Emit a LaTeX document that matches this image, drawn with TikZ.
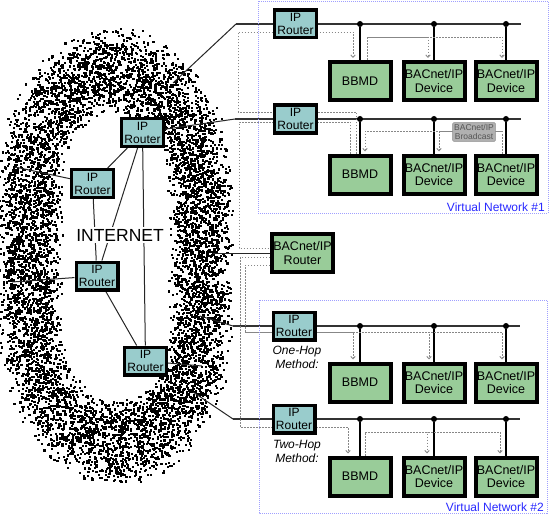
\documentclass[tikz,border=0pt]{standalone}
\usepackage{fontspec}
\setmainfont{Liberation Sans}
\usetikzlibrary{arrows.meta}
\definecolor{routerteal}{RGB}{153,204,204}
\definecolor{boxgreen}{RGB}{153,204,153}
\definecolor{flowgray}{RGB}{135,135,135}
\definecolor{vnline}{RGB}{160,160,255}
\definecolor{vntext}{RGB}{40,40,255}
\definecolor{bcastfill}{RGB}{176,176,176}
\definecolor{bcasttext}{RGB}{85,85,85}
\pgfdeclarelayer{cloud}
\pgfdeclarelayer{wires}
\pgfsetlayers{cloud,wires,main}
\tikzset{
  iprouter/.style={shape=rectangle, draw=black, line width=3.2pt, fill=routerteal, minimum width=41.8pt, minimum height=27.8pt, inner sep=0pt, align=center, font=\fontsize{12}{13}\selectfont},
  greenbox/.style={shape=rectangle, draw=black, line width=4pt, fill=boxgreen, minimum width=61pt, minimum height=38pt, inner sep=0pt, align=center, font=\fontsize{12.5}{13.5}\selectfont},
  tap/.style={shape=circle, fill=black, minimum size=6pt, inner sep=0pt},
  lan/.style={line width=1.8pt, draw=black!80},
  drop/.style={line width=1.3pt, draw=black},
  wan/.style={line width=1pt, draw=black!85},
  flow/.style={draw=flowgray, line width=0.9pt, dash pattern=on 1.5pt off 1.5pt},
  flowto/.style={flow, shorten >=2pt, -{Straight Barb[length=2.5pt,width=4.5pt]}},
  vnet/.style={draw=vnline, line width=0.9pt, dash pattern=on 1pt off 1pt},
  vnlabel/.style={anchor=south east, inner sep=1pt, text=vntext, font=\fontsize{12}{13}\selectfont},
  method/.style={align=center, font=\itshape\fontsize{12}{14}\selectfont},
  bcast/.style={shape=rectangle, fill=bcastfill, draw=black!45, line width=0.4pt, rounded corners=1pt, inner sep=1.5pt, align=center, text=bcasttext, font=\fontsize{8.5}{9.5}\selectfont}
}
\begin{document}
\begin{tikzpicture}[x=1pt, y=-1pt]
\useasboundingbox (0,0) rectangle (551,516);

% the internet cloud
\begin{pgfonlayer}{cloud}
\pgfmathsetseed{1234}
\foreach \k in {1,...,8000}{
  \pgfmathsetmacro{\off}{24*(2*rnd-1)+9*(2*rnd-1)}
  \pgfmathsetmacro{\rr}{85.5+\off}
  \pgfmathsetmacro{\sel}{rnd}
  \pgfmathsetmacro{\sgn}{rnd<0.5 ? -1 : 1}
  \pgfmathsetmacro{\ang}{180*rnd}
  \pgfmathsetmacro{\px}{\sel<0.31 ? 114.5+\sgn*\rr : 114.5+\rr*cos(\ang)}
  \pgfmathsetmacro{\py}{\sel<0.31 ? 184.5+142*rnd : 255.5+\sgn*(71+\rr/0.74*sin(\ang))}
  \fill[black] (\px,\py) rectangle ++(2.2,2.2);
}
\end{pgfonlayer}

% internet routers
\node[iprouter] (RA) at (142.5,132.5) {IP\\Router};
\node[iprouter] (RB) at (92.5,183.5) {IP\\Router};
\node[iprouter] (RC) at (97,276) {IP\\Router};
\node[iprouter] (RD) at (145.5,361) {IP\\Router};
\node[fill=white, inner sep=2pt, font=\fontsize{17.5}{18}\selectfont] (NET) at (120,235) {INTERNET};
\coordinate (LA) at (15,167);
\coordinate (LB) at (12,282);

% virtual network 1
\draw[vnet] (258,1) rectangle (548,213);
\node[vnlabel] (VN1) at (546,213) {Virtual Network \#1};
\node[iprouter] (R1) at (295.5,24) {IP\\Router};
\node[iprouter] (R2) at (295.5,119) {IP\\Router};
\node[greenbox] (B1) at (360,81) {BBMD};
\node[greenbox] (D1a) at (434,81) {BACnet/IP\\Device};
\node[greenbox] (D1b) at (506,81) {BACnet/IP\\Device};
\node[greenbox] (B2) at (360,174.5) {BBMD};
\node[greenbox] (D2a) at (434,174.5) {BACnet/IP\\Device};
\node[greenbox] (D2b) at (506,174.5) {BACnet/IP\\Device};
\node[tap] (T1a) at (360,24) {};
\node[tap] (T1b) at (434,24) {};
\node[tap] (T1c) at (506,24) {};
\node[tap] (T2a) at (360,119) {};
\node[tap] (T2b) at (434,119) {};
\node[tap] (T2c) at (506,119) {};

% bacnet router
\node[greenbox] (BR) at (302.5,253) {BACnet/IP\\Router};

% virtual network 2
\draw[vnet] (259,300) rectangle (547,513);
\node[vnlabel] (VN2) at (545,513) {Virtual Network \#2};
\node[iprouter] (R3) at (294,326) {IP\\Router};
\node[iprouter] (R4) at (294,419) {IP\\Router};
\node[method] (M1) at (297,357) {One-Hop\\Method:};
\node[method] (M2) at (297,451) {Two-Hop\\Method:};
\node[greenbox] (B3) at (360,382.5) {BBMD};
\node[greenbox] (D3a) at (434,382.5) {BACnet/IP\\Device};
\node[greenbox] (D3b) at (506,382.5) {BACnet/IP\\Device};
\node[greenbox] (B4) at (360,476.5) {BBMD};
\node[greenbox] (D4a) at (434,476.5) {BACnet/IP\\Device};
\node[greenbox] (D4b) at (506,476.5) {BACnet/IP\\Device};
\node[tap] (T3a) at (360,326) {};
\node[tap] (T3b) at (434,326) {};
\node[tap] (T3c) at (506,326) {};
\node[tap] (T4a) at (360,419) {};
\node[tap] (T4b) at (434,419) {};
\node[tap] (T4c) at (506,419) {};

% lan ends
\coordinate (W1) at (236,24);   \coordinate (E1) at (521,24);
\coordinate (W2) at (235,119);  \coordinate (E2) at (521,119);
\coordinate (W3) at (233,326);  \coordinate (E3) at (520,326);
\coordinate (W4) at (233,419);  \coordinate (E4) at (520,419);
\coordinate (C1) at (173,83);
\coordinate (C3) at (200,316);
\coordinate (C4) at (193,392);
\coordinate (C5) at (213,253);
\coordinate (C6) at (202,366);

\begin{pgfonlayer}{wires}
\path [wan] (RA) edge (RB);
\path [wan] (RA) edge (RC);
\path [wan] (RA) edge (RD);
\path [wan] (RB) edge (RC);
\path [wan] (RC) edge (RD);
\path [wan] (RB) edge (LA);
\path [wan] (RC) edge (LB);
\path [wan] (RA) edge (W2);
\path [wan] (RD) edge (C6);
\path [wan] (C1) edge (W1);
\path [wan] (C3) edge (W3);
\path [wan] (C4) edge (W4);
\path [wan] (C5) edge (BR);
\draw [lan] (W1) -- (E1);
\draw [lan] (W2) -- (E2);
\draw [lan] (W3) -- (E3);
\draw [lan] (W4) -- (E4);
\path [drop] (T1a) edge (B1);
\path [drop] (T1b) edge (D1a);
\path [drop] (T1c) edge (D1b);
\path [drop] (T2a) edge (B2);
\path [drop] (T2b) edge (D2a);
\path [drop] (T2c) edge (D2b);
\path [drop] (T3a) edge (B3);
\path [drop] (T3b) edge (D3a);
\path [drop] (T3c) edge (D3b);
\path [drop] (T4a) edge (B4);
\path [drop] (T4b) edge (D4a);
\path [drop] (T4c) edge (D4b);

% message flows
\draw[flowto] ([xshift=-4pt]B2.north) |- (238,112) -- (238,32) -| ([xshift=-7pt]B1.north);
\draw[flow] ([xshift=-10pt]B2.north) |- (239,122) |- ([yshift=5pt]BR.west);
\draw[flowto] ([yshift=-4pt]BR.west) -| (240,427) -| ([xshift=-12pt]B4.north);
\coordinate (F0) at (245,332);
\draw[flowto] ([yshift=-12pt]BR.west) -| (F0) -| ([xshift=-7pt]B3.north);
\draw[flowto] (F0) -| ([xshift=-5pt]D3a.north);
\draw[flowto] (F0) -| ([xshift=-4pt]D3b.north);
\coordinate (F1) at (367,37);
\draw[flowto] ([xshift=7pt]B1.north) -- (F1) -| ([xshift=-6pt]D1a.north);
\draw[flowto] (F1) -| ([xshift=-4pt]D1b.north);
\coordinate (F2) at (502,131);
\draw[flowto] ([xshift=-4pt]D2b.north) -- (F2) -| ([xshift=5pt]B2.north);
\draw[flowto] (F2) -| ([xshift=5pt]D2a.north);
\coordinate (F4) at (365,432);
\draw[flowto] ([xshift=5pt]B4.north) -- (F4) -| ([xshift=-7pt]D4a.north);
\draw[flowto] (F4) -| ([xshift=-6pt]D4b.north);
\end{pgfonlayer}

\node[bcast] (BC) at (474,132) {BACnet/IP\\Broadcast};
\end{tikzpicture}
\end{document}
